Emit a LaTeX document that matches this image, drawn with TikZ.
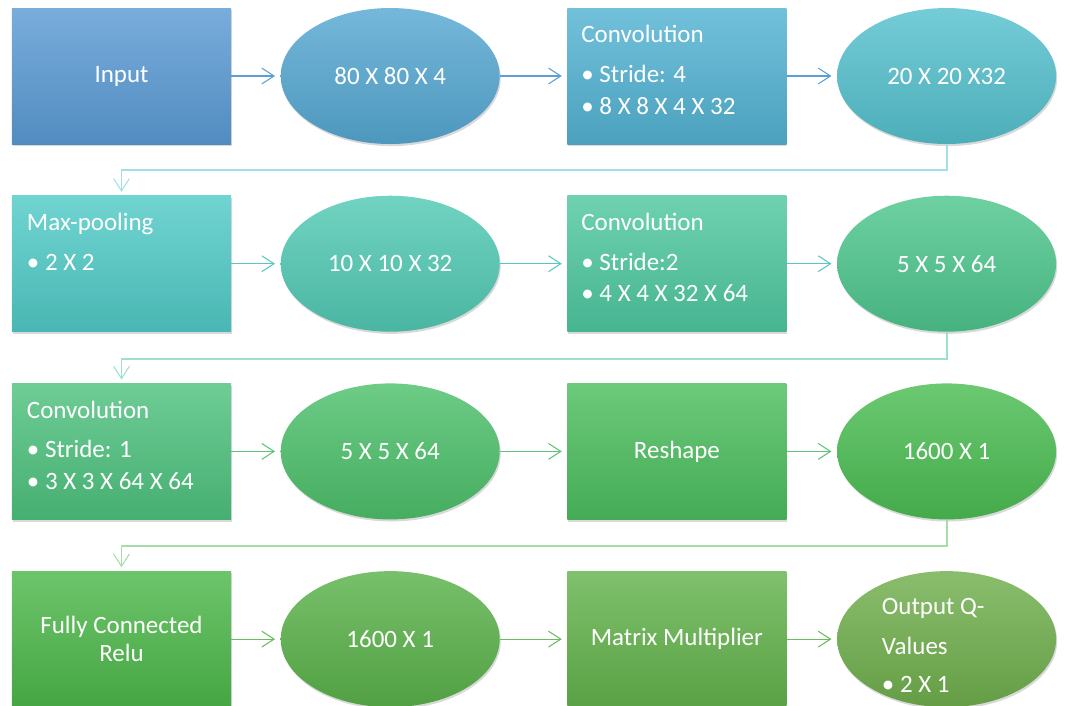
\documentclass[tikz,border=0pt]{standalone}
\usepackage{fontspec}
\setmainfont{Carlito}
\usepackage{tikz}
\usetikzlibrary{arrows.meta, positioning, shapes.geometric, shadows}

\definecolor{CInput}{HTML}{5B9BD5}
\definecolor{CEa}{HTML}{56A8D2}
\definecolor{CConva}{HTML}{53B3D3}
\definecolor{CEb}{HTML}{55C1CE}
\definecolor{CPool}{HTML}{51CBC7}
\definecolor{CEc}{HTML}{52CAB4}
\definecolor{CConvb}{HTML}{4FC8A0}
\definecolor{CEd}{HTML}{4EC68D}
\definecolor{CConvc}{HTML}{4EC27E}
\definecolor{CEe}{HTML}{4DC06B}
\definecolor{CReshape}{HTML}{4CBE5E}
\definecolor{CEf}{HTML}{4BBD52}
\definecolor{CDense}{HTML}{4DB84A}
\definecolor{CEg}{HTML}{5AB24A}
\definecolor{CMatmul}{HTML}{63B34C}
\definecolor{COut}{HTML}{70AF4D}
\definecolor{FlowBlue}{RGB}{91, 160, 213}
\definecolor{FlowTeal}{RGB}{88, 200, 190}
\definecolor{FlowMint}{RGB}{92, 196, 122}
\definecolor{FlowGreen}{RGB}{104, 190, 90}
\definecolor{LinkTeal}{RGB}{160, 224, 230}
\definecolor{LinkMint}{RGB}{158, 226, 198}
\definecolor{LinkGreen}{RGB}{164, 222, 166}

\newcommand{\toplines}[1]{\parbox[t]{4cm}{#1}}

\begin{document}
\begin{tikzpicture}[
    node distance=1.02cm,
    every node/.style={font=\fontsize{14.2}{18}\selectfont, text=white},
    grad/.style={top color=#1!82!white, bottom color=#1!90!black},
    layer/.style={rectangle, minimum width=4.38cm, minimum height=2.72cm, inner sep=0pt,
                  align=center, drop shadow={shadow xshift=0.6pt, shadow yshift=-1.2pt, opacity=0.3}},
    blob/.style={ellipse, minimum width=4.38cm, minimum height=2.72cm, inner sep=0pt,
                 drop shadow={shadow xshift=0.6pt, shadow yshift=-1.2pt, opacity=0.3}},
    toptext/.style={anchor=base west, inner sep=0pt},
    flow/.style={-{Straight Barb[length=7pt, width=9pt]}, line width=0.6pt, shorten >=3pt},
    link/.style={-{Straight Barb[length=7pt, width=9pt, line width=0.6pt]}, line width=1.1pt, shorten >=2pt}
]
\useasboundingbox (0,0) rectangle (21.36,-14.1);

% row 1
\node[layer, grad=CInput] (in1) at (2.43,-1.52) {Input};
\node[blob, grad=CEa, right=0.98cm of in1] (e1) {80 X 80 X 4};
\node[layer, grad=CConva, right=1.34cm of e1] (conv1) {};
\node[blob, grad=CEb, right=1cm of conv1] (e2) {20 X 20 X32};
\node[toptext] (conv1t) at ([xshift=0.28cm, yshift=-0.7cm]conv1.north west)
    {\toplines{Convolution\\[4.6pt]• Stride: 4\\• 8 X 8 X 4 X 32}};

% row 2
\node[layer, grad=CPool, below=of in1] (pool) {};
\node[blob, grad=CEc, right=0.98cm of pool] (e3) {10 X 10 X 32};
\node[layer, grad=CConvb, right=1.34cm of e3] (conv2) {};
\node[blob, grad=CEd, right=1cm of conv2] (e4) {5 X 5 X 64};
\node[toptext] (poolt) at ([xshift=0.3cm, yshift=-0.7cm]pool.north west)
    {\toplines{Max-pooling\\[4.6pt]• 2 X 2}};
\node[toptext] (conv2t) at ([xshift=0.28cm, yshift=-0.7cm]conv2.north west)
    {\toplines{Convolution\\[4.6pt]• Stride:2\\• 4 X 4 X 32 X 64}};

% row 3
\node[layer, grad=CConvc, below=of pool] (conv3) {};
\node[blob, grad=CEe, right=0.98cm of conv3] (e5) {5 X 5 X 64};
\node[layer, grad=CReshape, right=1.34cm of e5] (reshape) {Reshape};
\node[blob, grad=CEf, right=1cm of reshape] (e6) {1600 X 1};
\node[toptext] (conv3t) at ([xshift=0.3cm, yshift=-0.7cm]conv3.north west)
    {\toplines{Convolution\\[4.6pt]• Stride: 1\\• 3 X 3 X 64 X 64}};

% row 4
\node[layer, grad=CDense, below=of conv3] (dense) {Fully Connected\\[-2pt]Relu};
\node[blob, grad=CEg, right=0.98cm of dense] (e7) {1600 X 1};
\node[layer, grad=CMatmul, right=1.34cm of e7] (matmul) {Matrix Multiplier};
\node[blob, grad=COut, right=1cm of matmul] (out) {};
\node[toptext] (outt) at ([xshift=-1.3cm, yshift=-0.88cm]out.north)
    {\toplines{Output Q-\\[4.7pt]Values\\[3.5pt]• 2 X 1}};

% arrows
\draw[flow, FlowBlue] (in1) -- (e1);
\draw[flow, FlowBlue] (e1) -- (conv1);
\draw[flow, FlowBlue] (conv1) -- (e2);
\draw[link, LinkTeal] (e2.south) -- ++(0,-0.52) -| (pool.north);
\draw[flow, FlowTeal] (pool) -- (e3);
\draw[flow, FlowTeal] (e3) -- (conv2);
\draw[flow, FlowTeal] (conv2) -- (e4);
\draw[link, LinkMint] (e4.south) -- ++(0,-0.54) -| (conv3.north);
\draw[flow, FlowMint] (conv3) -- (e5);
\draw[flow, FlowMint] (e5) -- (reshape);
\draw[flow, FlowMint] (reshape) -- (e6);
\draw[link, LinkGreen] (e6.south) -- ++(0,-0.52) -| (dense.north);
\draw[flow, FlowGreen] (dense) -- (e7);
\draw[flow, FlowGreen] (e7) -- (matmul);
\draw[flow, FlowGreen] (matmul) -- (out);
\end{tikzpicture}
\end{document}
